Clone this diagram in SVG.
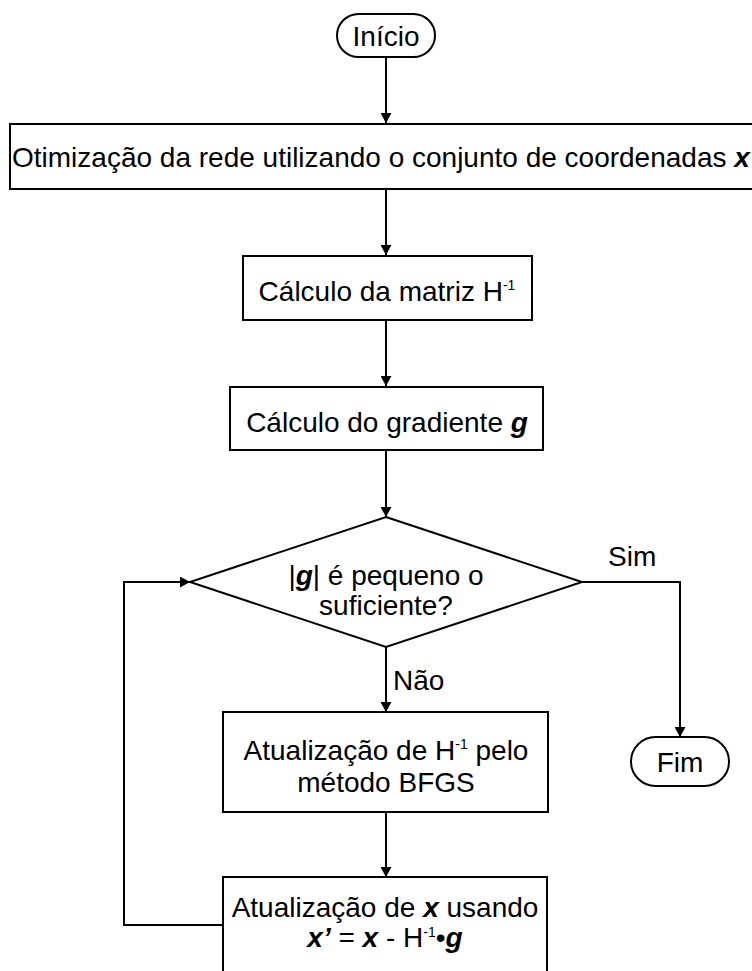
<svg xmlns="http://www.w3.org/2000/svg" width="752" height="971" viewBox="0 0 752 971">
<defs>
<marker id="ah" viewBox="0 0 10 10" refX="10" refY="5" markerWidth="10" markerHeight="11" markerUnits="userSpaceOnUse" orient="auto" preserveAspectRatio="none">
<path d="M0,0 L10,5 L0,10 z" fill="#000"/>
</marker>
<style>
.s{fill:#fff;stroke:#000;stroke-width:2}
.t{font-family:"Liberation Sans",Arial,sans-serif;font-size:28px;fill:#000;text-anchor:middle}
.l{font-family:"Liberation Sans",Arial,sans-serif;font-size:28px;fill:#000}
.b{font-weight:bold;font-style:italic}
.sup{font-size:14px}
.c{fill:none;stroke:#000;stroke-width:2}
</style>
</defs>
<rect width="752" height="971" fill="#fff"/>
<g id="connectors">
<path class="c" d="M386,57 V123" marker-end="url(#ah)"/>
<path class="c" d="M386,189 V255" marker-end="url(#ah)"/>
<path class="c" d="M386,320 V386" marker-end="url(#ah)"/>
<path class="c" d="M386,450 V517" marker-end="url(#ah)"/>
<path class="c" d="M386,647 V712" marker-end="url(#ah)"/>
<path class="c" d="M386,812 V877" marker-end="url(#ah)"/>
<path class="c" d="M582,582 H680 V737" marker-end="url(#ah)"/>
<path class="c" d="M223,925 H124 V582 H190" marker-end="url(#ah)"/>
<text class="l" x="608" y="566">Sim</text>
<text class="l" x="393" y="690">Não</text>
</g>
<g id="inicio">
<rect class="s" x="337" y="14" width="98" height="43" rx="21.5"/>
<text class="t" x="386" y="46">Início</text>
</g>
<g id="otimizacao">
<rect class="s" x="10" y="124" width="770" height="65"/>
<text class="l" x="12" y="167">Otimização da rede utilizando o conjunto de coordenadas <tspan class="b">x</tspan></text>
</g>
<g id="matriz">
<rect class="s" x="243" y="256" width="289" height="64"/>
<text class="t" x="387" y="301">Cálculo da matriz H<tspan class="sup" dy="-11">-1</tspan></text>
</g>
<g id="gradiente">
<rect class="s" x="230" y="387" width="313" height="63"/>
<text class="t" x="387" y="432">Cálculo do gradiente <tspan class="b">g</tspan></text>
</g>
<g id="decisao">
<path class="s" d="M386,517 L582,582 L386,647 L190,582 Z"/>
<text class="t" x="386" y="585">|<tspan class="b">g</tspan>| é pequeno o</text>
<text class="t" x="386" y="615">suficiente?</text>
</g>
<g id="fim">
<rect class="s" x="631" y="737" width="98" height="49" rx="24.5"/>
<text class="t" x="680" y="772">Fim</text>
</g>
<g id="bfgs">
<rect class="s" x="223" y="712" width="325" height="100"/>
<text class="t" x="386" y="760">Atualização de H<tspan class="sup" dy="-11">-1</tspan><tspan dy="11"> pelo</tspan></text>
<text class="t" x="386" y="792">método BFGS</text>
</g>
<g id="atualizacao-x">
<rect class="s" x="223" y="877" width="324" height="110"/>
<text class="t" x="385" y="917">Atualização de <tspan class="b">x</tspan> usando</text>
<text class="t" x="385" y="947"><tspan class="b">x’</tspan> = <tspan class="b">x</tspan> - H<tspan class="sup" dy="-10">-1</tspan><tspan dy="10">•</tspan><tspan class="b">g</tspan></text>
</g>
</svg>
